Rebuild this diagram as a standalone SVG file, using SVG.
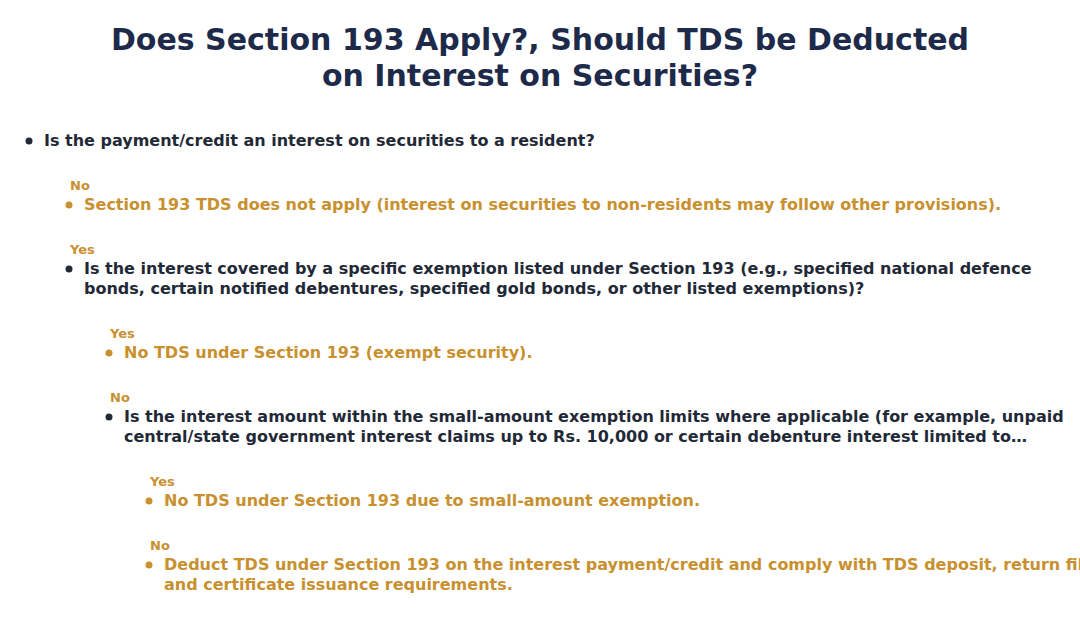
<svg xmlns="http://www.w3.org/2000/svg" width="1080" height="622" viewBox="0 0 1080 622">
<style>
text{font-family:"DejaVu Sans",sans-serif;font-weight:bold}
.title{font-size:30px;fill:#1e2a4a;text-anchor:middle}
.q{font-size:16px;fill:#1f2937}
.a{font-size:16px;fill:#c8902e}
.lbl{font-size:13px;fill:#c8902e}
.bq{fill:#1f2937}
.ba{fill:#c8902e}
</style>
<rect width="1080" height="622" fill="#ffffff"/>
<g id="title">
<text class="title" x="540" y="50">Does Section 193 Apply?, Should TDS be Deducted</text>
<text class="title" x="540" y="86">on Interest on Securities?</text>
</g>
<g id="connectors"></g>
<g id="q1">
<circle class="bq" cx="29" cy="141" r="3.5"/>
<text class="q" x="44" y="146">Is the payment/credit an interest on securities to a resident?</text>
</g>
<g id="a1">
<text class="lbl" x="70" y="190">No</text>
<circle class="ba" cx="69" cy="205" r="3.5"/>
<text class="a" x="84" y="210">Section 193 TDS does not apply (interest on securities to non-residents may follow other provisions).</text>
</g>
<g id="q2">
<text class="lbl" x="70" y="254">Yes</text>
<circle class="bq" cx="69" cy="269" r="3.5"/>
<text class="q" x="84" y="274">Is the interest covered by a specific exemption listed under Section 193 (e.g., specified national defence</text>
<text class="q" x="84" y="294">bonds, certain notified debentures, specified gold bonds, or other listed exemptions)?</text>
</g>
<g id="a2">
<text class="lbl" x="110" y="338">Yes</text>
<circle class="ba" cx="109" cy="353" r="3.5"/>
<text class="a" x="124" y="358">No TDS under Section 193 (exempt security).</text>
</g>
<g id="q3">
<text class="lbl" x="110" y="402">No</text>
<circle class="bq" cx="109" cy="417" r="3.5"/>
<text class="q" x="124" y="422">Is the interest amount within the small-amount exemption limits where applicable (for example, unpaid</text>
<text class="q" x="124" y="442">central/state government interest claims up to Rs. 10,000 or certain debenture interest limited to…</text>
</g>
<g id="a3">
<text class="lbl" x="150" y="486">Yes</text>
<circle class="ba" cx="149" cy="501" r="3.5"/>
<text class="a" x="164" y="506">No TDS under Section 193 due to small-amount exemption.</text>
</g>
<g id="a4">
<text class="lbl" x="150" y="550">No</text>
<circle class="ba" cx="149" cy="565" r="3.5"/>
<text class="a" x="164" y="570">Deduct TDS under Section 193 on the interest payment/credit and comply with TDS deposit, return filing,</text>
<text class="a" x="164" y="590">and certificate issuance requirements.</text>
</g>
</svg>
